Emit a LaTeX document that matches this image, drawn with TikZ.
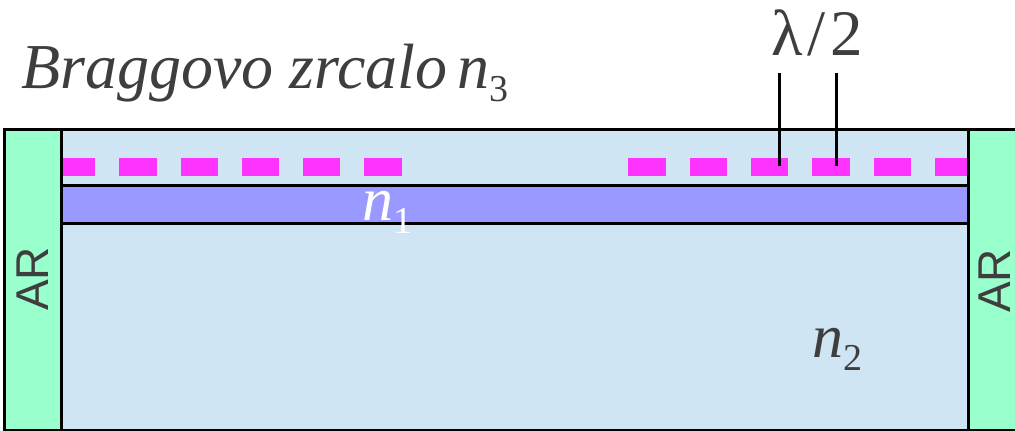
\documentclass[tikz,border=0pt]{standalone}
\usepackage{fontspec}
\setmainfont{Liberation Serif}
\newfontfamily\arialfont{Liberation Sans}
\definecolor{coreblue}{RGB}{207,229,243}
\definecolor{argreen}{RGB}{153,255,204}
\definecolor{layerpurple}{RGB}{153,153,255}
\definecolor{gratingpink}{RGB}{255,51,255}
\definecolor{inkgrey}{RGB}{62,62,62}
% index label: italic n with a lowered upright subscript
\newcommand\idx[1]{\textit{n}\raisebox{-13pt}{\fontsize{38}{38}\selectfont #1}}
\begin{document}
\begin{tikzpicture}[x=1pt,y=-1pt,
  wall/.style={line width=3pt,black},
  tooth/.style={fill=gratingpink,draw=none},
  bigtext/.style={inner sep=0pt,font=\fontsize{62}{62}\selectfont,text=inkgrey},
  artext/.style={inner sep=0pt,rotate=90,font=\arialfont\fontsize{46}{46}\selectfont,text=inkgrey},
  pointer/.style={line width=3pt,black}]
\useasboundingbox (0,0) rectangle (1015,431);

% waveguide core and anti-reflection end coatings
\fill[coreblue] (61.5,129.5) rectangle (968.5,431);
\fill[argreen] (4.5,129.5) rectangle (61.5,431);
\fill[argreen] (968.5,129.5) rectangle (1016,431);
% active layer n1
\fill[layerpurple] (61.5,185.5) rectangle (968.5,223.5);

% Bragg grating teeth
\foreach \a/\b in {61.5/95,119/157,181/218,242/279,303/340,364/402,
                   628/666,690/727,751/788,812/850,874/911,935/968.5}
  \fill[tooth] (\a,158) rectangle (\b,176);

% outlines
\draw[wall] (1016,129.5) -- (4.5,129.5) -- (4.5,430) -- (1016,430);
\draw[wall] (61.5,129.5) -- (61.5,430);
\draw[wall] (968.5,129.5) -- (968.5,430);
\draw[wall] (61.5,185.5) -- (968.5,185.5);
\draw[wall] (61.5,223.5) -- (968.5,223.5);

% period marker
\coordinate (p1top) at (779,73);
\coordinate (p1) at (779,166);
\coordinate (p2top) at (836,73);
\coordinate (p2) at (836,166);
\draw[pointer] (p1top) -- (p1);
\draw[pointer] (p2top) -- (p2);
\node[bigtext,anchor=base west,font=\fontsize{65}{65}\selectfont] (period) at (771,55) {λ\kern5pt/\kern5pt2};

% labels
\node[bigtext,anchor=base west,font=\fontsize{64}{64}\selectfont] (mirror) at (21,88) {\textit{Braggovo zrcalo}\,\idx{3}};
\node[bigtext,anchor=base west,text=white] (n1) at (362,220) {\idx{1}};
\node[bigtext,anchor=base west] (n2) at (812,357) {\idx{2}};
\node[artext] (arleft) at (32.5,279) {AR};
\node[artext] (arright) at (995,281) {AR};
\end{tikzpicture}
\end{document}
